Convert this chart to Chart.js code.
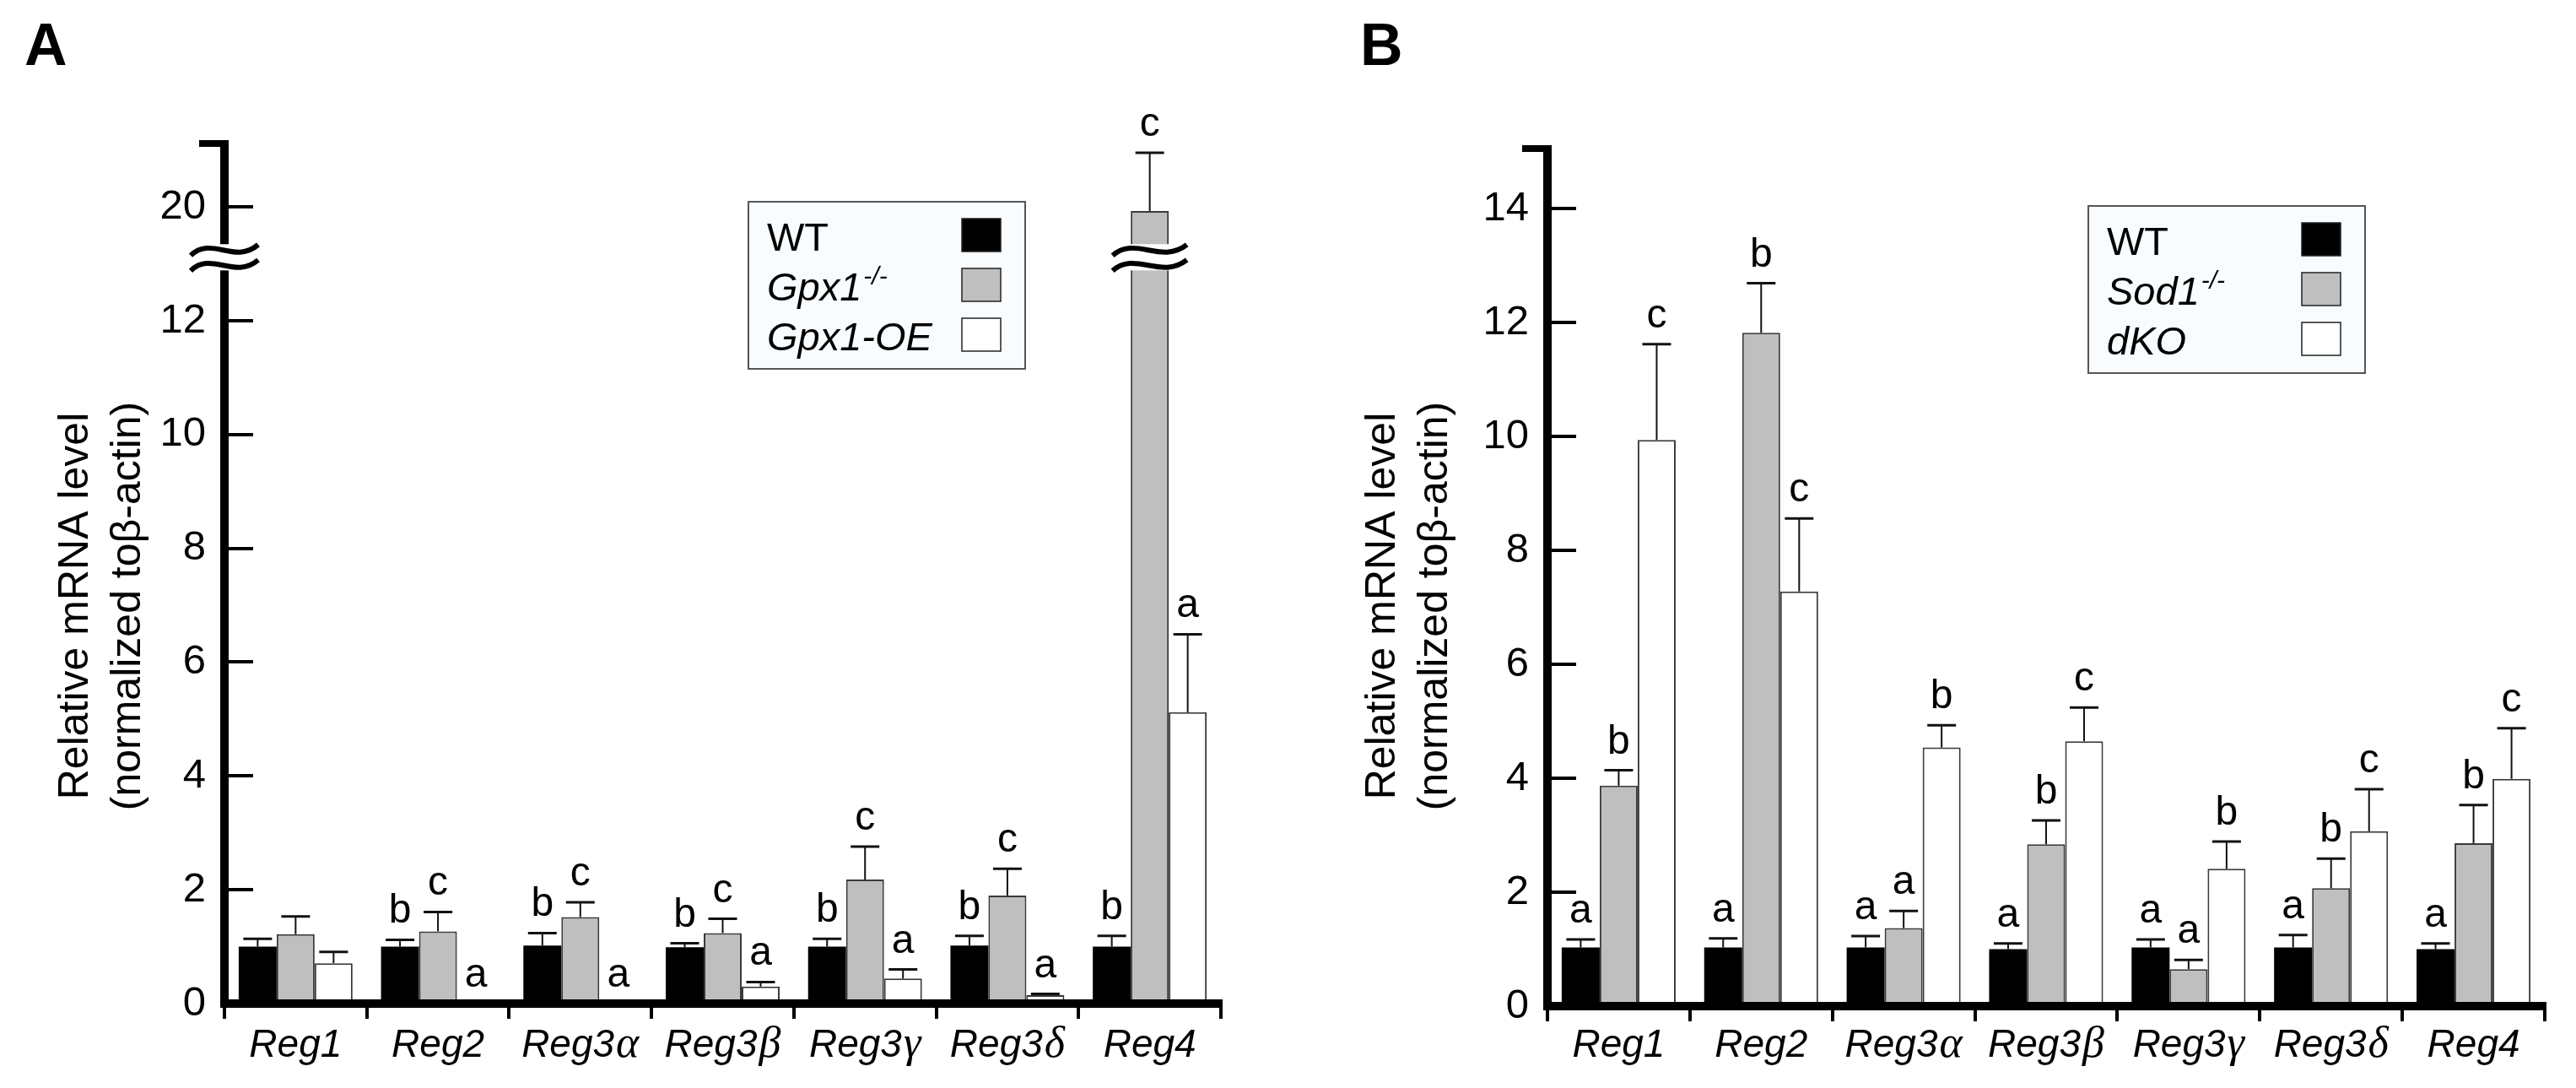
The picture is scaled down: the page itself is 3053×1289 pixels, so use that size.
<!DOCTYPE html>
<html>
<head>
<meta charset="utf-8">
<script src="https://cdn.jsdelivr.net/npm/chart.js@4.4.1/dist/chart.umd.min.js"></script>
<style>
    html, body { margin: 0; padding: 0; background: #fff; }
    #wrap { position: relative; width: 3053px; height: 1289px; overflow: hidden; }
    canvas { position: absolute; top: 0; }
    #chartA { left: 0; }
    #chartB { left: 1526px; }
</style>
</head>
<body>
<div id="wrap">
    <canvas id="chartA" width="1526" height="1289"></canvas>
    <canvas id="chartB" width="1527" height="1289"></canvas>
</div>
<script>
const genes = ['Reg1', 'Reg2', 'Reg3α', 'Reg3β', 'Reg3γ', 'Reg3δ', 'Reg4'];
const barColors = ['#000000', '#bfbfbf', '#ffffff'];
const yTitle = ['Relative mRNA level', '(normalized toβ-actin)'];

// panel A - Gpx1
const groupsA = ['WT', 'Gpx1-/-', 'Gpx1-OE'];
const wtA = [1.00, 1.00, 1.02, 0.99, 1.00, 1.02, 1.00];
const wtSemA = [0.14, 0.12, 0.22, 0.07, 0.14, 0.17, 0.19];
const koA = [1.22, 1.27, 1.52, 1.24, 2.18, 1.90, 19.93];
const koSemA = [0.31, 0.34, 0.26, 0.25, 0.58, 0.47, 1.02];
const oeA = [0.71, 0, 0, 0.30, 0.44, 0.15, 5.12];
const oeSemA = [0.20, 0, 0, 0.08, 0.16, 0.02, 1.37];
const wtLetA = ['', 'b', 'b', 'b', 'b', 'b', 'b'];
const koLetA = ['', 'c', 'c', 'c', 'c', 'c', 'c'];
const oeLetA = ['', 'a', 'a', 'a', 'a', 'a', 'a'];
const yTicksA = [0, 2, 4, 6, 8, 10, 12, 20];
const yBreakA = [12.84, 19.39];
const yTopA = 21.1;

// panel B - Sod1
const groupsB = ['WT', 'Sod1-/-', 'dKO'];
const wtB = [1.03, 1.03, 1.03, 1.00, 1.03, 1.03, 1.00];
const wtSemB = [0.14, 0.16, 0.20, 0.10, 0.14, 0.22, 0.10];
const koB = [3.87, 11.82, 1.37, 2.84, 0.65, 2.07, 2.86];
const koSemB = [0.27, 0.87, 0.30, 0.42, 0.16, 0.52, 0.67];
const dkoB = [9.94, 7.28, 4.54, 4.65, 2.41, 3.07, 3.99];
const dkoSemB = [1.68, 1.28, 0.39, 0.59, 0.48, 0.74, 0.89];
const wtLetB = ['a', 'a', 'a', 'a', 'a', 'a', 'a'];
const koLetB = ['b', 'b', 'a', 'b', 'a', 'b', 'b'];
const dkoLetB = ['c', 'c', 'b', 'c', 'b', 'c', 'c'];
const yTicksB = [0, 2, 4, 6, 8, 10, 12, 14];
const yTopB = 15.04;

const SANS = '"Liberation Sans", Arial, sans-serif';
const NARROW = '"Liberation Sans Narrow", "Arial Narrow", "Liberation Sans", sans-serif';
const SERIF = '"Liberation Serif", "Times New Roman", serif';
const BREAK_GAP = 0.55;

// value -> axis units with the 12.84..19.39 stretch cut out
function squash(v) {
    const [lo, hi] = yBreakA;
    if (v <= lo) return v;
    if (v >= hi) return v - (hi - lo) + BREAK_GAP;
    return lo + (v - lo) / (hi - lo) * BREAK_GAP;
}

function unsquash(t) {
    const [lo, hi] = yBreakA;
    if (t <= lo) return t;
    if (t >= lo + BREAK_GAP) return t + (hi - lo) - BREAK_GAP;
    return lo + (t - lo) / BREAK_GAP * (hi - lo);
}

class BrokenScale extends Chart.LinearScale {
    getPixelForValue(value) {
        return value == null ? NaN : super.getPixelForValue(squash(value));
    }
    getValueForPixel(pixel) {
        return unsquash(super.getValueForPixel(pixel));
    }
}
BrokenScale.id = 'broken';
BrokenScale.defaults = Chart.LinearScale.defaults;
Chart.register(BrokenScale);

function wave(ctx, x0, x1, y) {
    const w = x1 - x0, a = 8;
    ctx.beginPath();
    ctx.moveTo(x0, y + a * 0.8);
    ctx.bezierCurveTo(x0 + w * 0.3, y - a * 2.2, x0 + w * 0.65, y + a * 2.2, x1, y - a * 0.8);
    ctx.stroke();
}

function drawBreak(ctx, cx, halfW, clearHalf, yTop, yBot) {
    ctx.fillStyle = '#fff';
    ctx.fillRect(cx - clearHalf, yTop + 3, clearHalf * 2, yBot - yTop - 6);
    ctx.strokeStyle = '#000';
    ctx.lineWidth = 6;
    wave(ctx, cx - halfW, cx + halfW, yTop + 10);
    wave(ctx, cx - halfW, cx + halfW, yBot - 9);
}

function drawGene(ctx, label, cx, y) {
    const m = label.match(/^(.*?)([α-ω]?)$/);
    const main = m[1], greek = m[2];
    ctx.font = `italic 46px ${SANS}`;
    const w1 = ctx.measureText(main).width;
    ctx.font = `italic 52px ${SERIF}`;
    const w2 = greek ? ctx.measureText(greek).width + 2 : 0;
    const x = cx - (w1 + w2) / 2;
    ctx.textAlign = 'left';
    ctx.textBaseline = 'alphabetic';
    ctx.fillStyle = '#000';
    ctx.font = `italic 46px ${SANS}`;
    ctx.fillText(main, x, y);
    if (greek) {
        ctx.font = `italic 52px ${SERIF}`;
        ctx.fillText(greek, x + w1 + 2, y);
    }
}

function drawLegend(ctx, names, bx, by) {
    const bw = 328, bh = 198;
    ctx.fillStyle = '#f8fcfe';
    ctx.fillRect(bx, by, bw, bh);
    ctx.strokeStyle = '#555';
    ctx.lineWidth = 2;
    ctx.strokeRect(bx, by, bw, bh);
    names.forEach((name, i) => {
        const base = by + 58 + i * 59;
        let text = name, sup = '';
        if (name.endsWith('-/-')) {
            text = name.slice(0, -3);
            sup = '-/-';
        }
        ctx.fillStyle = '#000';
        ctx.textAlign = 'left';
        ctx.textBaseline = 'alphabetic';
        ctx.font = `${name === 'WT' ? '' : 'italic '}47px ${SANS}`;
        ctx.fillText(text, bx + 22, base);
        if (sup) {
            const w = ctx.measureText(text).width;
            ctx.font = `italic 30px ${SANS}`;
            ctx.fillText(sup, bx + 24 + w, base - 19);
        }
        const sx = bx + 253, sy = base - 38;
        ctx.fillStyle = barColors[i];
        ctx.fillRect(sx, sy, 46, 39);
        ctx.strokeStyle = '#222';
        ctx.lineWidth = 1.5;
        ctx.strokeRect(sx, sy, 46, 39);
    });
}

function overlay(o) {
    return {
        id: 'overlay',
        afterDatasetsDraw(chart) {
            const ctx = chart.ctx, y = chart.scales.y;
            ctx.save();
            o.values.forEach((vals, i) => {
                chart.getDatasetMeta(i).data.forEach((bar, j) => {
                    const sem = o.sems[i][j];
                    const top = y.getPixelForValue(vals[j]);
                    const end = y.getPixelForValue(vals[j] + sem);
                    if (sem > 0) {
                        ctx.strokeStyle = '#111';
                        ctx.lineWidth = 2;
                        ctx.beginPath();
                        ctx.moveTo(bar.x, top);
                        ctx.lineTo(bar.x, end);
                        ctx.stroke();
                        ctx.lineWidth = 3;
                        ctx.beginPath();
                        ctx.moveTo(bar.x - 17, end);
                        ctx.lineTo(bar.x + 17, end);
                        ctx.stroke();
                    }
                    const letter = o.letters[i][j];
                    if (letter) {
                        ctx.fillStyle = '#000';
                        ctx.font = `48px ${NARROW}`;
                        ctx.textAlign = 'center';
                        ctx.textBaseline = 'alphabetic';
                        ctx.fillText(letter, bar.x, end - 20);
                    }
                });
            });
            ctx.restore();
        },
        afterDraw(chart) {
            const ctx = chart.ctx, y = chart.scales.y, x = chart.scales.x;
            const area = chart.chartArea;
            ctx.save();
            ctx.fillStyle = '#000';
            // inward ticks and top cap of the y axis
            o.ticks.forEach(v => {
                if (v === 0) return;
                ctx.fillRect(area.left, Math.round(y.getPixelForValue(v)) - 2, 34, 4);
            });
            ctx.fillRect(area.left - 30, area.top - 5, 35, 8);

            if (o.broken) {
                const [lo, hi] = yBreakA;
                const yTop = y.getPixelForValue(hi), yBot = y.getPixelForValue(lo);
                drawBreak(ctx, area.left, 40, 9, yTop, yBot);
                o.values.forEach((vals, i) => {
                    chart.getDatasetMeta(i).data.forEach((bar, j) => {
                        if (vals[j] > hi) drawBreak(ctx, bar.x, 44, bar.width / 2 + 2, yTop, yBot);
                    });
                });
            }

            genes.forEach((g, i) => drawGene(ctx, g, x.getPixelForValue(i), 1252));

            ctx.fillStyle = '#000';
            ctx.font = `50px ${SANS}`;
            ctx.textAlign = 'center';
            ctx.textBaseline = 'middle';
            yTitle.forEach((line, i) => {
                ctx.save();
                ctx.translate(o.titleX + i * 62, 718);
                ctx.rotate(-Math.PI / 2);
                ctx.fillText(line, 0, 0);
                ctx.restore();
            });

            drawLegend(ctx, o.groups, o.legend[0], o.legend[1]);

            ctx.fillStyle = '#000';
            ctx.font = `bold 70px ${SANS}`;
            ctx.textAlign = 'left';
            ctx.textBaseline = 'alphabetic';
            ctx.fillText(o.panel, o.panelX, 77);
            ctx.restore();
        }
    };
}

function makeChart(id, o) {
    const datasets = o.values.map((vals, i) => ({
        label: o.groups[i],
        data: vals,
        backgroundColor: barColors[i],
        borderColor: i === 0 ? '#000' : '#3a3a3a',
        borderWidth: i === 0 ? 0 : 2,
        categoryPercentage: 0.8,
        barPercentage: 1.0
    }));
    return new Chart(document.getElementById(id), {
        type: 'bar',
        data: { labels: genes, datasets },
        options: {
            responsive: false,
            devicePixelRatio: 1,
            animation: false,
            layout: { padding: { left: 0, top: o.area.top, right: o.area.right, bottom: 0 } },
            plugins: { legend: { display: false }, tooltip: { enabled: false } },
            scales: {
                x: {
                    grid: { drawOnChartArea: false, drawTicks: true, tickLength: 18, lineWidth: 4, color: '#000', offset: true },
                    border: { display: true, width: 10, color: '#000', z: 1 },
                    ticks: { display: false },
                    afterFit: s => { s.height = 1289 - o.area.bottom; }
                },
                y: {
                    type: o.yType,
                    min: 0,
                    max: o.yMax,
                    grid: { drawOnChartArea: false, drawTicks: false },
                    border: { display: true, width: 10, color: '#000' },
                    ticks: {
                        font: { family: NARROW, size: 49 },
                        color: '#000',
                        padding: 22,
                        autoSkip: false,
                        callback: v => String(v)
                    },
                    afterBuildTicks: s => { s.ticks = o.ticks.map(v => ({ value: v })); },
                    afterFit: s => { s.width = o.area.left; }
                }
            }
        },
        plugins: [overlay(o)]
    });
}

makeChart('chartA', {
    groups: groupsA,
    values: [wtA, koA, oeA],
    sems: [wtSemA, koSemA, oeSemA],
    letters: [wtLetA, koLetA, oeLetA],
    ticks: yTicksA,
    yType: 'broken',
    yMax: squash(yTopA),
    broken: true,
    area: { left: 266, right: 1526 - 1447, top: 171, bottom: 1189 },
    titleX: 90,
    legend: [887, 239],
    panel: 'A',
    panelX: 29
});

makeChart('chartB', {
    groups: groupsB,
    values: [wtB, koB, dkoB],
    sems: [wtSemB, koSemB, dkoSemB],
    letters: [wtLetB, koLetB, dkoLetB],
    ticks: yTicksB,
    yType: 'linear',
    yMax: yTopB,
    broken: false,
    area: { left: 308, right: 1527 - 1490, top: 177, bottom: 1192 },
    titleX: 113,
    legend: [949, 244],
    panel: 'B',
    panelX: 86
});
</script>
</body>
</html>
